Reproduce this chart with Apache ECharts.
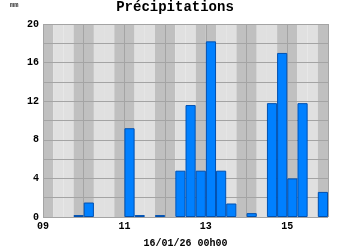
<!DOCTYPE html>
<html><head><meta charset="utf-8">
<script src="https://cdn.jsdelivr.net/npm/echarts@6/dist/echarts.min.js"></script>
<style>html,body{margin:0;padding:0;background:#fff}#c{width:350px;height:250px}</style>
</head><body><div id="c"></div>
<script>
// quarter-hour slots from 09h00 to 15h45
const slots = ["09:00","09:15","09:30","09:45","10:00","10:15","10:30","10:45",
  "11:00","11:15","11:30","11:45","12:00","12:15","12:30","12:45",
  "13:00","13:15","13:30","13:45","14:00","14:15","14:30","14:45",
  "15:00","15:15","15:30","15:45"];
// precipitation (mm) per slot
const rain = [0,0,0,0.2,1.5,0,0,0,
  9.2,0.2,0,0.2,0,4.8,11.6,4.8,
  18.2,4.8,1.4,0,0.4,0,11.8,17.0,
  4.0,11.8,0,2.6];
const hourLabels = [9,11,13,15];
const yLabels = [0,4,8,12,16,20];
const titleText = "Précipitations";
const unitText = "mm";
const dateText = "16/01/26 00h00";

const FONT = "Liberation Mono";
const chart = echarts.init(document.getElementById('c'), null, {renderer:'canvas'});
chart.setOption({
  animation:false,
  backgroundColor:'#ffffff',
  title:[
    {text:titleText, left:'center', top:0, padding:0, textStyle:{fontFamily:FONT, fontWeight:'bold', fontSize:14, color:'#000'}},
    {text:unitText, left:10, top:2, padding:0, textStyle:{fontFamily:FONT, fontWeight:'bold', fontSize:7, color:'#333'}}
  ],
  grid:{left:43, right:22, top:24, bottom:33, containLabel:false, outerBoundsMode:'none'},
  xAxis:[
    {type:'category', data:slots, show:true, axisLine:{show:false}, axisTick:{show:false}, axisLabel:{show:false}, splitLine:{show:false}},
    {type:'value', min:9, max:16, interval:1, position:'bottom', z:3,
     axisLine:{show:false}, axisTick:{show:false},
     splitLine:{show:true, lineStyle:{color:'#a4a4a4', width:1}},
     axisLabel:{margin:4, fontFamily:FONT, fontWeight:'bold', fontSize:10, color:'#000',
       formatter:v => hourLabels.indexOf(v) >= 0 ? String(v).padStart(2,'0') : ''},
     name:dateText, nameLocation:'middle', nameGap:21,
     nameTextStyle:{fontFamily:FONT, fontWeight:'bold', fontSize:10, color:'#000'}}
  ],
  yAxis:{type:'value', min:0, max:20, interval:2, z:3,
    axisLine:{show:false}, axisTick:{show:false},
    splitLine:{show:true, lineStyle:{color:'#a4a4a4', width:1}},
    axisLabel:{margin:4, fontFamily:FONT, fontWeight:'bold', fontSize:10, color:'#000',
      formatter:v => yLabels.indexOf(v) >= 0 ? String(v) : ''}},
  series:[
    {type:'bar', xAxisIndex:0, silent:true, z:1, barGap:'-100%', barCategoryGap:'0%',
     data:slots.map(() => 20),
     itemStyle:{color:p => (p.dataIndex % 4 === 0 || p.dataIndex % 4 === 3) ? '#c0c0c0' : '#e0e0e0'}},
    {type:'bar', xAxisIndex:0, z:5, barGap:'-100%', barCategoryGap:'0%',
     data:rain.map(v => v === 0 ? '-' : v),
     itemStyle:{color:'#0080ff', borderColor:'#0050b0', borderWidth:1}}
  ]
});
</script></body></html>
